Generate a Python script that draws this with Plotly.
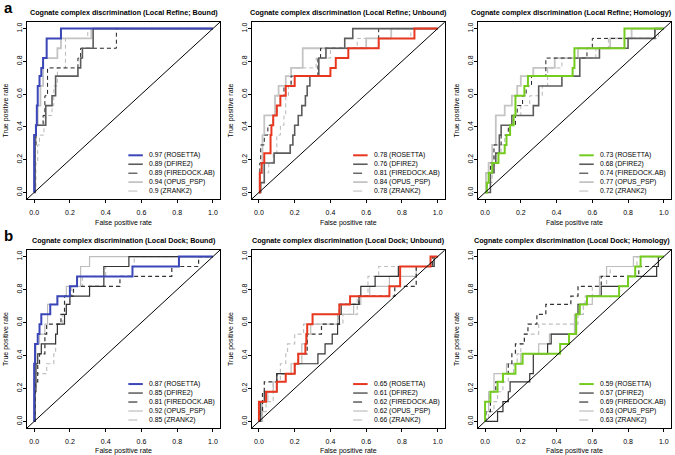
import plotly.graph_objects as go

METHODS = ["ROSETTA", "DFIRE2", "FIREDOCK.AB", "OPUS_PSP", "ZRANK2"]
PANEL_TITLES = [
    "Cognate complex discrimination (Local Refine; Bound)",
    "Cognate complex discrimination (Local Refine; Unbound)",
    "Cognate complex discrimination (Local Refine; Homology)",
    "Cognate complex discrimination (Local Dock; Bound)",
    "Cognate complex discrimination (Local Dock; Unbound)",
    "Cognate complex discrimination (Local Dock; Homology)",
]
PANEL_LETTERS = ["a", "b"]
TICKS = [0.0, 0.2, 0.4, 0.6, 0.8, 1.0]

# AUC values shown in legends
AUC_REFINE_BOUND = [0.97, 0.89, 0.89, 0.94, 0.9]
AUC_REFINE_UNBOUND = [0.78, 0.76, 0.81, 0.84, 0.78]
AUC_REFINE_HOMOLOGY = [0.73, 0.68, 0.74, 0.77, 0.72]
AUC_DOCK_BOUND = [0.87, 0.85, 0.81, 0.92, 0.85]
AUC_DOCK_UNBOUND = [0.65, 0.61, 0.62, 0.62, 0.66]
AUC_DOCK_HOMOLOGY = [0.59, 0.57, 0.69, 0.63, 0.63]

# ROC step points: FPR at which TPR jumps, TPR after the jump
FPR_REFINE_BOUND = {
    "ROSETTA": [0, 0, 0.01, 0.015, 0.02, 0.03, 0.04, 0.05, 0.07, 0.15, 1],
    "DFIRE2": [0, 0.005, 0.01, 0.065, 0.1, 0.12, 0.245, 0.26, 0.27, 0.33, 1],
    "FIREDOCK.AB": [0, 0.005, 0.01, 0.05, 0.06, 0.075, 0.245, 0.26, 0.46, 1],
    "OPUS_PSP": [0, 0.005, 0.01, 0.02, 0.035, 0.05, 0.13, 0.15, 0.32, 1],
    "ZRANK2": [0, 0.01, 0.02, 0.03, 0.055, 0.1, 0.11, 0.13, 0.175, 0.3, 1],
}
TPR_REFINE_BOUND = {
    "ROSETTA": [0, 0.35, 0.41, 0.53, 0.65, 0.71, 0.76, 0.82, 0.94, 1, 1],
    "DFIRE2": [0, 0.35, 0.41, 0.53, 0.59, 0.71, 0.76, 0.82, 0.88, 1, 1],
    "FIREDOCK.AB": [0, 0.29, 0.41, 0.47, 0.59, 0.76, 0.82, 0.88, 1, 1],
    "OPUS_PSP": [0, 0.29, 0.41, 0.53, 0.65, 0.82, 0.88, 0.94, 1, 1],
    "ZRANK2": [0, 0.18, 0.29, 0.35, 0.47, 0.53, 0.65, 0.76, 0.94, 1, 1],
}

FPR_REFINE_UNBOUND = {
    "ROSETTA": [0, 0.005, 0.015, 0.03, 0.065, 0.07, 0.08, 0.1, 0.12, 0.15, 0.2, 0.4, 0.43, 0.5, 0.67, 0.87, 1],
    "DFIRE2": [0, 0.01, 0.03, 0.085, 0.175, 0.19, 0.2, 0.22, 0.24, 0.26, 0.27, 0.285, 0.335, 0.375, 0.48, 0.525, 1],
    "FIREDOCK.AB": [0, 0.005, 0.01, 0.03, 0.05, 0.08, 0.1, 0.12, 0.14, 0.18, 0.33, 0.345, 0.67, 1],
    "OPUS_PSP": [0, 0.005, 0.02, 0.03, 0.09, 0.11, 0.15, 0.18, 0.245, 0.6, 0.74, 1],
    "ZRANK2": [0, 0.01, 0.03, 0.055, 0.08, 0.1, 0.12, 0.14, 0.15, 0.165, 0.18, 0.32, 0.4, 0.55, 0.85, 1],
}
TPR_REFINE_UNBOUND = {
    "ROSETTA": [0, 0.12, 0.18, 0.24, 0.35, 0.41, 0.47, 0.53, 0.59, 0.65, 0.71, 0.76, 0.82, 0.88, 0.94, 1, 1],
    "DFIRE2": [0, 0.06, 0.18, 0.24, 0.29, 0.35, 0.41, 0.47, 0.53, 0.59, 0.65, 0.71, 0.82, 0.88, 0.94, 1, 1],
    "FIREDOCK.AB": [0, 0.18, 0.29, 0.35, 0.41, 0.47, 0.53, 0.59, 0.65, 0.71, 0.82, 0.88, 1, 1],
    "OPUS_PSP": [0, 0.12, 0.35, 0.47, 0.59, 0.65, 0.71, 0.76, 0.88, 0.94, 1, 1],
    "ZRANK2": [0, 0.06, 0.12, 0.18, 0.24, 0.35, 0.41, 0.47, 0.59, 0.65, 0.76, 0.82, 0.88, 0.94, 1, 1],
}

FPR_REFINE_HOMOLOGY = {
    "ROSETTA": [0, 0.01, 0.02, 0.04, 0.075, 0.11, 0.12, 0.14, 0.16, 0.17, 0.22, 0.24, 0.49, 0.5, 0.78, 1],
    "DFIRE2": [0, 0.03, 0.05, 0.06, 0.08, 0.09, 0.15, 0.27, 0.3, 0.43, 0.53, 0.64, 0.8, 0.95, 1],
    "FIREDOCK.AB": [0, 0.01, 0.03, 0.05, 0.09, 0.13, 0.17, 0.18, 0.21, 0.23, 0.26, 0.34, 0.57, 0.6, 0.95, 1],
    "OPUS_PSP": [0, 0.005, 0.02, 0.04, 0.06, 0.11, 0.15, 0.18, 0.2, 0.27, 0.39, 0.52, 0.7, 0.82, 1],
    "ZRANK2": [0, 0.01, 0.04, 0.05, 0.09, 0.11, 0.14, 0.16, 0.2, 0.25, 0.32, 0.35, 0.43, 0.62, 0.69, 0.97, 1],
}
TPR_REFINE_HOMOLOGY = {
    "ROSETTA": [0, 0.06, 0.12, 0.18, 0.24, 0.29, 0.35, 0.41, 0.47, 0.59, 0.65, 0.71, 0.76, 0.88, 1, 1],
    "DFIRE2": [0, 0.12, 0.18, 0.24, 0.35, 0.41, 0.47, 0.53, 0.65, 0.71, 0.82, 0.88, 0.94, 1, 1],
    "FIREDOCK.AB": [0, 0.06, 0.18, 0.29, 0.35, 0.41, 0.47, 0.53, 0.59, 0.65, 0.71, 0.82, 0.88, 0.94, 1, 1],
    "OPUS_PSP": [0, 0.12, 0.18, 0.29, 0.47, 0.53, 0.59, 0.65, 0.71, 0.76, 0.82, 0.88, 0.94, 1, 1],
    "ZRANK2": [0, 0.06, 0.12, 0.24, 0.29, 0.35, 0.41, 0.47, 0.53, 0.59, 0.65, 0.76, 0.82, 0.88, 0.94, 1, 1],
}

FPR_DOCK_BOUND = {
    "ROSETTA": [0, 0, 0.005, 0.02, 0.03, 0.04, 0.09, 0.13, 0.2, 0.24, 0.55, 0.81, 1],
    "DFIRE2": [0, 0.005, 0.01, 0.02, 0.04, 0.12, 0.13, 0.17, 0.18, 0.2, 0.31, 0.39, 0.53, 1],
    "FIREDOCK.AB": [0, 0.005, 0.02, 0.03, 0.06, 0.07, 0.15, 0.17, 0.22, 0.48, 0.77, 0.92, 1],
    "OPUS_PSP": [0, 0.005, 0.01, 0.03, 0.06, 0.075, 0.13, 0.18, 0.26, 0.31, 1],
    "ZRANK2": [0, 0.005, 0.01, 0.07, 0.11, 0.12, 0.13, 0.16, 0.18, 0.2, 0.21, 0.27, 0.4, 0.56, 1],
}
TPR_DOCK_BOUND = {
    "ROSETTA": [0, 0.35, 0.47, 0.53, 0.59, 0.65, 0.71, 0.76, 0.82, 0.88, 0.94, 1, 1],
    "DFIRE2": [0, 0.18, 0.35, 0.41, 0.47, 0.53, 0.59, 0.65, 0.71, 0.76, 0.82, 0.94, 1, 1],
    "FIREDOCK.AB": [0, 0.24, 0.35, 0.41, 0.53, 0.59, 0.65, 0.76, 0.82, 0.88, 0.94, 1, 1],
    "OPUS_PSP": [0, 0.29, 0.47, 0.53, 0.59, 0.71, 0.76, 0.82, 0.94, 1, 1],
    "ZRANK2": [0, 0.18, 0.29, 0.35, 0.41, 0.53, 0.59, 0.65, 0.71, 0.76, 0.82, 0.88, 0.94, 1, 1],
}

FPR_DOCK_UNBOUND = {
    "ROSETTA": [0, 0, 0.04, 0.1, 0.15, 0.2, 0.22, 0.26, 0.265, 0.27, 0.3, 0.45, 0.51, 0.73, 0.79, 0.96, 1],
    "DFIRE2": [0, 0.01, 0.03, 0.1, 0.2, 0.33, 0.37, 0.41, 0.44, 0.45, 0.46, 0.56, 0.57, 0.65, 0.78, 0.98, 1],
    "FIREDOCK.AB": [0, 0.005, 0.02, 0.03, 0.1, 0.2, 0.22, 0.27, 0.35, 0.45, 0.56, 0.76, 0.88, 0.97, 1],
    "OPUS_PSP": [0, 0.02, 0.05, 0.08, 0.1, 0.18, 0.24, 0.27, 0.29, 0.44, 0.53, 0.57, 0.62, 0.73, 0.88, 0.98, 1],
    "ZRANK2": [0, 0.01, 0.04, 0.08, 0.12, 0.15, 0.16, 0.2, 0.25, 0.47, 0.55, 0.61, 0.67, 0.97, 1],
}
TPR_DOCK_UNBOUND = {
    "ROSETTA": [0, 0.12, 0.18, 0.24, 0.29, 0.35, 0.41, 0.47, 0.53, 0.59, 0.65, 0.71, 0.76, 0.82, 0.94, 1, 1],
    "DFIRE2": [0, 0.12, 0.18, 0.29, 0.35, 0.41, 0.47, 0.53, 0.59, 0.65, 0.71, 0.76, 0.82, 0.88, 0.94, 1, 1],
    "FIREDOCK.AB": [0, 0.06, 0.18, 0.24, 0.29, 0.35, 0.41, 0.53, 0.59, 0.71, 0.76, 0.82, 0.94, 1, 1],
    "OPUS_PSP": [0, 0.12, 0.18, 0.24, 0.29, 0.35, 0.47, 0.53, 0.59, 0.65, 0.71, 0.76, 0.82, 0.88, 0.94, 1, 1],
    "ZRANK2": [0, 0.06, 0.12, 0.24, 0.35, 0.41, 0.47, 0.53, 0.59, 0.65, 0.76, 0.88, 0.94, 1, 1],
}

FPR_DOCK_HOMOLOGY = {
    "ROSETTA": [0, 0, 0.03, 0.07, 0.1, 0.17, 0.21, 0.42, 0.47, 0.51, 0.53, 0.57, 0.75, 0.8, 0.84, 0.87, 1],
    "DFIRE2": [0, 0.07, 0.1, 0.13, 0.14, 0.25, 0.27, 0.35, 0.37, 0.51, 0.52, 0.57, 0.65, 0.8, 0.96, 0.97, 1],
    "FIREDOCK.AB": [0, 0.005, 0.03, 0.06, 0.1, 0.13, 0.15, 0.17, 0.22, 0.24, 0.29, 0.34, 0.48, 0.52, 0.65, 0.86, 0.97, 1],
    "OPUS_PSP": [0, 0, 0.02, 0.05, 0.12, 0.2, 0.3, 0.36, 0.5, 0.53, 0.6, 0.64, 0.68, 0.83, 1],
    "ZRANK2": [0, 0.02, 0.05, 0.07, 0.1, 0.13, 0.16, 0.18, 0.2, 0.22, 0.3, 0.52, 0.55, 0.56, 0.6, 0.68, 0.7, 0.85, 1],
}
TPR_DOCK_HOMOLOGY = {
    "ROSETTA": [0, 0.12, 0.18, 0.24, 0.29, 0.35, 0.41, 0.47, 0.53, 0.65, 0.71, 0.76, 0.82, 0.88, 0.94, 1, 1],
    "DFIRE2": [0, 0.06, 0.12, 0.18, 0.24, 0.29, 0.41, 0.47, 0.53, 0.65, 0.71, 0.76, 0.82, 0.88, 0.94, 1, 1],
    "FIREDOCK.AB": [0, 0.06, 0.18, 0.24, 0.29, 0.35, 0.41, 0.47, 0.53, 0.59, 0.65, 0.71, 0.76, 0.82, 0.88, 0.94, 1, 1],
    "OPUS_PSP": [0, 0.06, 0.18, 0.29, 0.35, 0.41, 0.47, 0.53, 0.65, 0.71, 0.76, 0.88, 0.94, 1, 1],
    "ZRANK2": [0, 0.06, 0.12, 0.18, 0.24, 0.29, 0.35, 0.41, 0.47, 0.53, 0.59, 0.65, 0.71, 0.76, 0.82, 0.88, 0.94, 1, 1],
}

PANELS = [
    (FPR_REFINE_BOUND, TPR_REFINE_BOUND, AUC_REFINE_BOUND),
    (FPR_REFINE_UNBOUND, TPR_REFINE_UNBOUND, AUC_REFINE_UNBOUND),
    (FPR_REFINE_HOMOLOGY, TPR_REFINE_HOMOLOGY, AUC_REFINE_HOMOLOGY),
    (FPR_DOCK_BOUND, TPR_DOCK_BOUND, AUC_DOCK_BOUND),
    (FPR_DOCK_UNBOUND, TPR_DOCK_UNBOUND, AUC_DOCK_UNBOUND),
    (FPR_DOCK_HOMOLOGY, TPR_DOCK_HOMOLOGY, AUC_DOCK_HOMOLOGY),
]

# ---------------- styling ----------------
FONT = "Liberation Sans, Arial, Helvetica, sans-serif"
COL_ACCENT = ["#3b46b8", "#e8361f", "#74cc1f"]
STYLE_ROW1 = {
    "DFIRE2": dict(color="#5c5c5c", width=1.6, dash="solid"),
    "FIREDOCK.AB": dict(color="#222222", width=1.0, dash="4px,3px"),
    "OPUS_PSP": dict(color="#c4c4c4", width=1.8, dash="solid"),
    "ZRANK2": dict(color="#b8b8b8", width=1.0, dash="4px,3px"),
}
STYLE_ROW2 = {
    "DFIRE2": dict(color="#333333", width=1.2, dash="solid"),
    "FIREDOCK.AB": dict(color="#333333", width=1.2, dash="4px,3px"),
    "OPUS_PSP": dict(color="#bdbdbd", width=1.2, dash="solid"),
    "ZRANK2": dict(color="#c0c0c0", width=1.2, dash="4px,3px"),
}

XDOM = [[0.040, 0.326], [0.373, 0.659], [0.708, 0.994]]
YDOM = [[0.5626, 0.9516], [0.0593, 0.4505]]
RNG = [-0.04, 1.04]

fig = go.Figure()
shapes = []
annotations = []

draw_order = ["ZRANK2", "OPUS_PSP", "FIREDOCK.AB", "DFIRE2", "ROSETTA"]

for p, (fpr, tpr, auc) in enumerate(PANELS):
    row, col = divmod(p, 3)
    n = p + 1
    xa = "x" if n == 1 else f"x{n}"
    ya = "y" if n == 1 else f"y{n}"
    styles = STYLE_ROW1 if row == 0 else STYLE_ROW2
    accent = COL_ACCENT[col]

    def style_of(m):
        if m == "ROSETTA":
            return dict(color=accent, width=2.0, dash="solid")
        return styles[m]

    for m in draw_order:
        fig.add_trace(go.Scatter(
            x=fpr[m], y=tpr[m], mode="lines", line_shape="hv",
            line=style_of(m), xaxis=xa, yaxis=ya, showlegend=False,
            hoverinfo="skip"))

    # diagonal reference line
    shapes.append(dict(type="line", xref=xa, yref=ya, x0=RNG[0], y0=RNG[0],
                       x1=RNG[1], y1=RNG[1], line=dict(color="black", width=1)))

    axis_common = dict(range=RNG, tickvals=TICKS, tickformat=".1f",
                       showgrid=False, zeroline=False, showline=True,
                       mirror=True, linecolor="black", linewidth=1,
                       ticks="outside", ticklen=3, tickcolor="black",
                       tickwidth=1, tickfont=dict(size=7, family=FONT, color="black"),
                       automargin=False, fixedrange=True)
    fig.layout[f"xaxis{'' if n == 1 else n}"] = dict(
        axis_common, domain=XDOM[col], anchor=ya, ticklabelstandoff=4,
        title=dict(text="False positive rate", font=dict(size=7, family=FONT, color="black"), standoff=4))
    fig.layout[f"yaxis{'' if n == 1 else n}"] = dict(
        axis_common, domain=YDOM[row], anchor=xa, tickangle=-90, ticklabelstandoff=-2,
        title=dict(text="True positive rate", font=dict(size=7, family=FONT, color="black"), standoff=6))

    # panel title
    cx = (XDOM[col][0] + XDOM[col][1]) / 2
    if col == 2:
        cx -= 0.004
    annotations.append(dict(
        text=f"<b>{PANEL_TITLES[p]}</b>", xref="paper", yref="paper",
        x=cx, y=YDOM[row][1] + 0.022,
        xanchor="center", yanchor="middle", showarrow=False,
        font=dict(size=7.2, family=FONT, color="black")))

    # legend (drawn inside each panel, lower right)
    xd = f"{xa} domain"
    yd = f"{ya} domain"
    for i, m in enumerate(METHODS):
        yy = 0.247 - i * 0.0505
        st = style_of(m)
        shapes.append(dict(type="line", xref=xd, yref=yd, x0=0.525, x1=0.60,
                           y0=yy, y1=yy,
                           line=dict(color=st["color"], width=st["width"],
                                     dash="dash" if st["dash"] != "solid" else "solid")))
        annotations.append(dict(
            text=f"{auc[i]:g} ({m})", xref=xd, yref=yd, x=0.622, y=yy,
            xanchor="left", yanchor="middle", showarrow=False,
            font=dict(size=6.8, family=FONT, color="black")))

# panel letters
for r, letter in enumerate(PANEL_LETTERS):
    annotations.append(dict(
        text=f"<b>{letter}</b>", xref="paper", yref="paper",
        x=0.003, y=YDOM[r][1] + 0.031, xanchor="left", yanchor="middle",
        showarrow=False, font=dict(size=15, family=FONT, color="black")))

fig.update_layout(
    width=675, height=455,
    margin=dict(l=0, r=0, t=0, b=0),
    paper_bgcolor="white", plot_bgcolor="white",
    shapes=shapes, annotations=annotations,
    showlegend=False,
    font=dict(family=FONT, color="black"),
)

fig.write_html("out.html", config={"displayModeBar": False},
               post_script="document.body.style.margin='0';document.body.style.overflow='hidden';")
